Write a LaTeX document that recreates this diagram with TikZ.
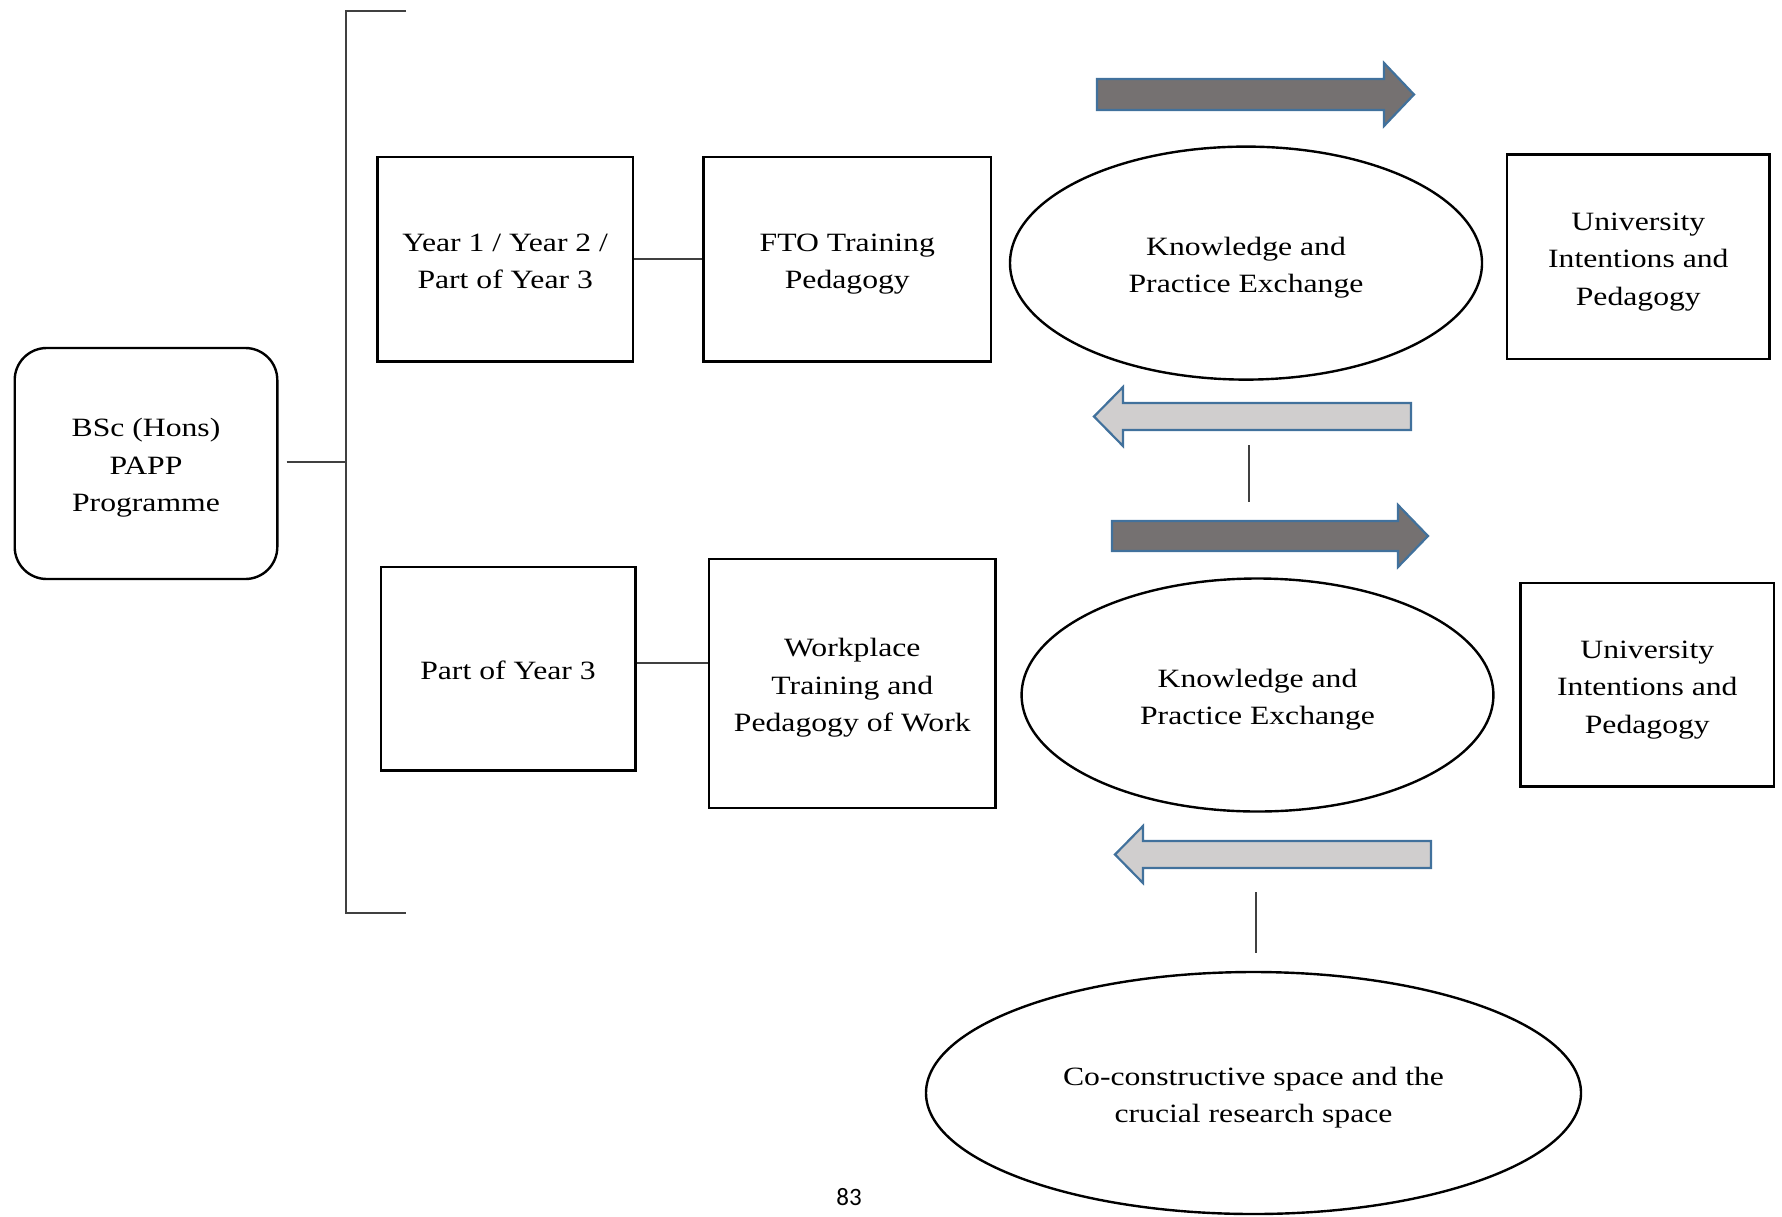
\documentclass[tikz,border=0pt]{standalone}
\usepackage{fontspec}
\setmainfont{Liberation Serif}[FakeStretch=1.2]
\newfontfamily\pagenumfont{Carlito}
\usetikzlibrary{shapes.geometric}
\definecolor{arrowline}{HTML}{41719C}
\definecolor{darkfill}{HTML}{757171}
\definecolor{lightfill}{HTML}{D0CECE}
\definecolor{connline}{HTML}{404040}
\newcommand\boxtext[1]{\raisebox{-1.7pt}[\height][\depth]{\begin{tabular}{@{}c@{}}#1\end{tabular}}}
\begin{document}
\begin{tikzpicture}[x=0.5pt,y=-0.5pt,
  txt/.style={align=center, font=\fontsize{13.2}{18.75}\selectfont, inner sep=0pt},
  box/.style={txt, draw, line width=1.2pt},
  oval/.style={txt, draw, line width=1.2pt, ellipse},
  conn/.style={draw=connline, line width=0.9pt},
  darrow/.style={draw=arrowline, fill=darkfill, line width=1.1pt, line join=miter},
  larrow/.style={draw=arrowline, fill=lightfill, line width=1.1pt, line join=miter}]
\useasboundingbox (0,0) rectangle (1782,1216);

% main boxes
\node[box, rounded corners=16pt, minimum width=131.3pt, minimum height=115.5pt] (bsc) at (146,463.5) {\boxtext{BSc (Hons)\\PAPP\\Programme}};
\node[box, minimum width=127.9pt, minimum height=102.3pt] (y1) at (505.2,259.1) {\boxtext{Year 1 / Year 2 /\\Part of Year 3}};
\node[box, minimum width=143.8pt, minimum height=102.3pt] (fto) at (847.3,259.1) {\boxtext{FTO Training\\Pedagogy}};
\node[oval, minimum width=236pt, minimum height=116.5pt] (ke1) at (1246,263.1) {\boxtext{Knowledge and\\Practice Exchange}};
\node[box, minimum width=131.3pt, minimum height=102.2pt] (uni1) at (1638.3,256.8) {\boxtext{University\\Intentions and\\Pedagogy}};

\node[box, minimum width=127.3pt, minimum height=101.8pt] (p3) at (508,668.8) {\boxtext{Part of Year 3}};
\node[box, minimum width=143.3pt, minimum height=124.5pt] (wp) at (852.3,683.5) {\boxtext{Workplace\\Training and\\Pedagogy of Work}};
\node[oval, minimum width=235.9pt, minimum height=116.5pt] (ke2) at (1257.5,695) {\boxtext{Knowledge and\\Practice Exchange}};
\node[box, minimum width=126.7pt, minimum height=101.8pt] (uni2) at (1647.3,684.8) {\boxtext{University\\Intentions and\\Pedagogy}};

\node[oval, minimum width=327.5pt, minimum height=121pt] (cc) at (1253.5,1093) {\boxtext{Co-constructive space and the\\crucial research space}};

\node[font=\pagenumfont\fontsize{12.5}{14}\selectfont, inner sep=0pt] (pg) at (849,1197) {83};

% bracket
\coordinate (btop) at (346,10.7);
\coordinate (bbot) at (346,912.6);
\coordinate (bmid) at (346,461.7);
\draw[conn] (406,10.7) -- (btop) -- (bbot) -- (406,912.6);
\draw[conn] ([xshift=4pt]bsc.east |- bmid) -- (bmid);

% box connectors
\draw[conn] (y1.east) -- (fto.west);
\coordinate (l2) at (0,662.6);
\draw[conn] (p3.east |- l2) -- (wp.west |- l2);

% vertical connectors
\coordinate (v1a) at (1249,445);
\coordinate (v1b) at (1249,502);
\draw[conn] (v1a) -- (v1b);
\coordinate (v2a) at (1256,892);
\coordinate (v2b) at (1256,953);
\draw[conn] (v2a) -- (v2b);

% block arrows
\draw[darrow] (1097,79) -- (1384,79) -- (1384,63) -- (1414,94.5) -- (1384,126) -- (1384,110) -- (1097,110) -- cycle;
\draw[larrow] (1411,403) -- (1123,403) -- (1123,387) -- (1094,416.5) -- (1123,446) -- (1123,430) -- (1411,430) -- cycle;
\draw[darrow] (1112,521) -- (1398,521) -- (1398,505) -- (1428,536) -- (1398,567) -- (1398,551) -- (1112,551) -- cycle;
\draw[larrow] (1431,841) -- (1143,841) -- (1143,826) -- (1115,854.5) -- (1143,883) -- (1143,868) -- (1431,868) -- cycle;
\end{tikzpicture}
\end{document}
